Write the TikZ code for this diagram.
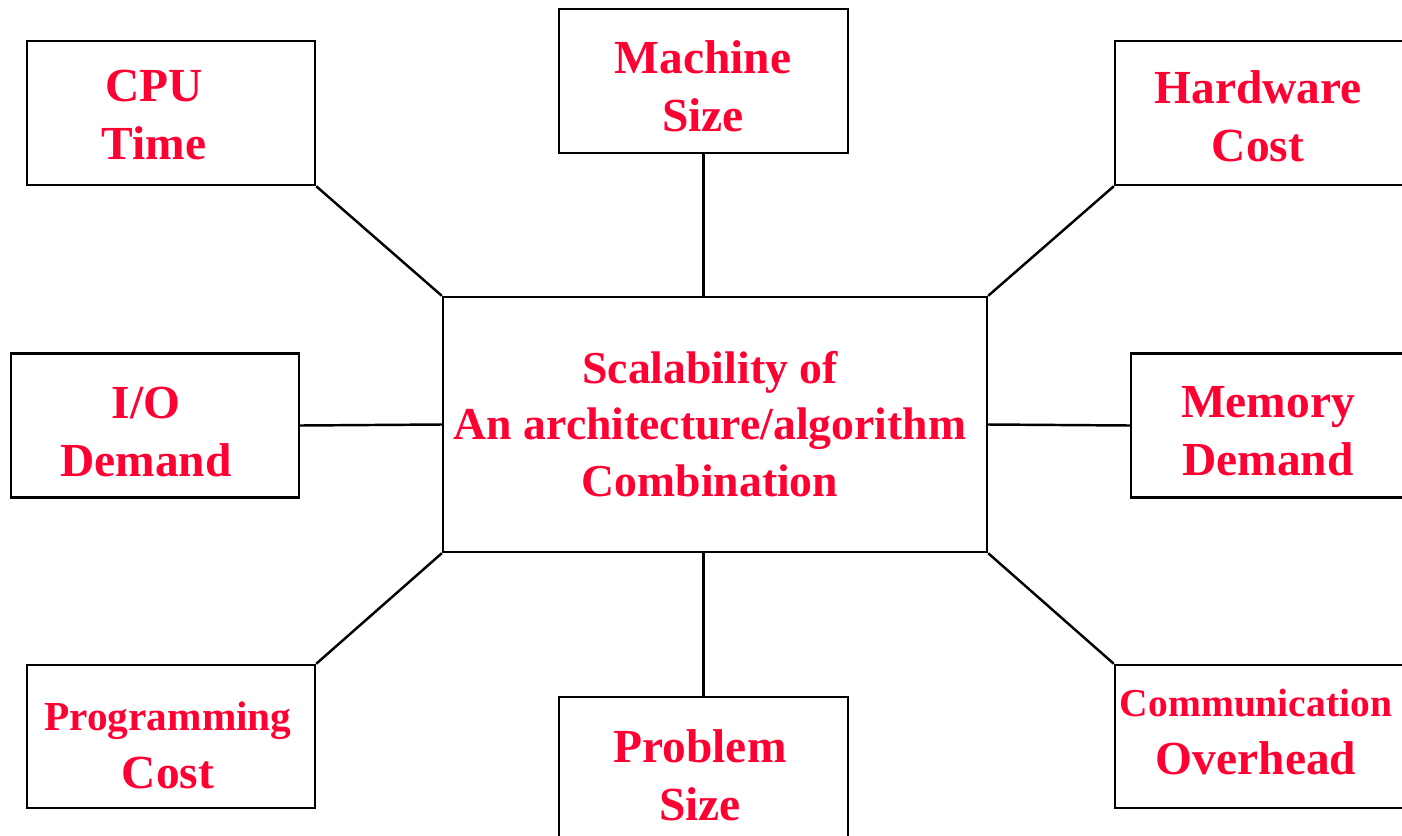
\documentclass[tikz,border=0pt]{standalone}
\usepackage{fontspec}
\setmainfont{Liberation Serif}
\definecolor{labelred}{RGB}{255,0,51}
\begin{document}
\begin{tikzpicture}[x=0.02cm, y=-0.02cm,
    box/.style={draw, line width=1.4pt, rectangle, inner sep=0pt},
    txt/.style={text=labelred, font=\fontsize{27}{33}\selectfont\bfseries, align=center, inner sep=0pt},
    coretxt/.style={txt, font=\fontsize{26}{32}\selectfont\bfseries},
    link/.style={line width=1.4pt}]
  \useasboundingbox (0,0) rectangle (1402,835);
  \clip (0,0) rectangle (1402,835);

  % Boxes
  \node[box, minimum width=10.88cm, minimum height=5.1cm] (core) at (715,424.5) {};
  \node[box, minimum width=5.76cm, minimum height=2.88cm] (cpu) at (171,113) {};
  \node[box, minimum width=5.78cm, minimum height=2.88cm] (machine) at (703.5,81) {};
  \node[box, minimum width=6.5cm, minimum height=2.88cm] (hardware) at (1277.5,113) {};
  \node[box, minimum width=5.76cm, minimum height=2.88cm] (io) at (155,425.5) {};
  \node[box, minimum width=6.18cm, minimum height=2.88cm] (memory) at (1285.5,425.5) {};
  \node[box, minimum width=5.76cm, minimum height=2.86cm] (prog) at (171,736.5) {};
  \node[box, minimum width=5.78cm, minimum height=3.26cm] (problem) at (703.5,778.5) {};
  \node[box, minimum width=6.5cm, minimum height=2.86cm] (comm) at (1277.5,736.5) {};

  % Labels
  \node[coretxt] (corelabel) at (710,424) {Scalability of\\An architecture/algorithm\\Combination};
  \node[txt] (cpulabel) at (154,115) {CPU\\Time};
  \node[txt] (machinelabel) at (703,86) {Machine\\Size};
  \node[txt] (hardwarelabel) at (1258,116) {Hardware\\Cost};
  \node[txt] (iolabel) at (146,432) {I/O\\Demand};
  \node[txt] (memorylabel) at (1268,431) {Memory\\Demand};
  \node[txt] (proglabel) at (168,745) {{\fontsize{23.5}{29}\selectfont Programming}\\Cost};
  \node[txt] (problemlabel) at (700,775) {Problem\\Size};
  \node[txt] (commlabel) at (1256,732) {{\fontsize{22.5}{29}\selectfont Communication}\\Overhead};

  % Connectors
  \draw[link] (cpu.south east) -- (core.north west);
  \draw[link] (machine.south) -- (machine.south |- core.north);
  \draw[link] (hardware.south west) -- (core.north east);
  \draw[link] (io.east) -- (core.west);
  \draw[link] (memory.west) -- (core.east);
  \draw[link] (prog.north east) -- (core.south west);
  \draw[link] (problem.north) -- (problem.north |- core.south);
  \draw[link] (comm.north west) -- (core.south east);
\end{tikzpicture}
\end{document}
